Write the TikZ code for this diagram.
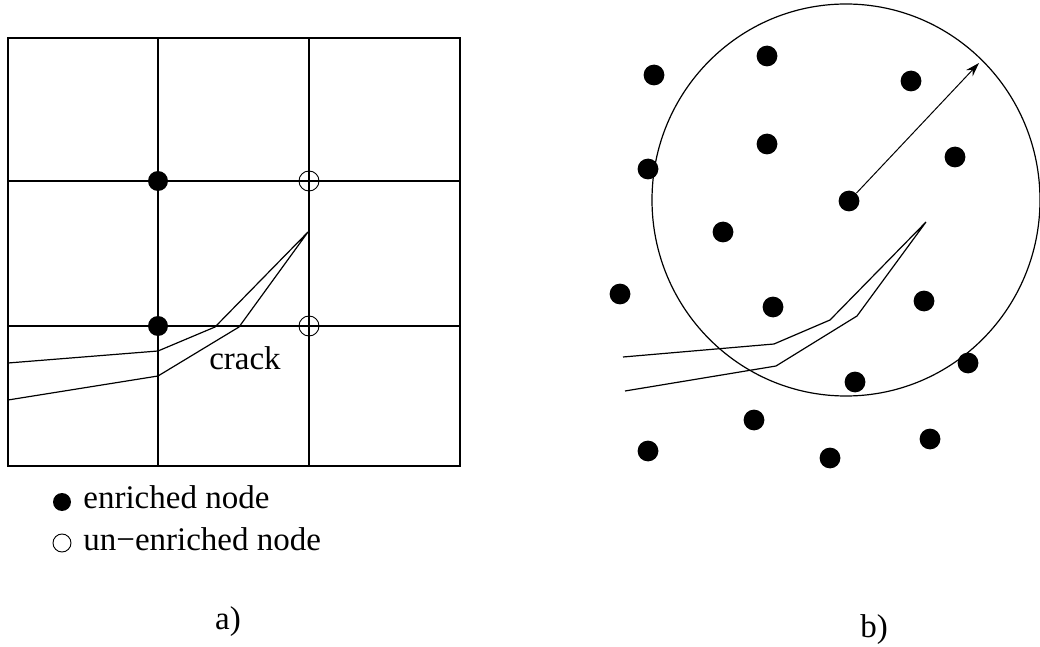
\documentclass[tikz,border=0pt]{standalone}
\usepackage{fontspec}
\setmainfont{Liberation Serif}
\usetikzlibrary{arrows.meta,positioning}

\begin{document}
\begin{tikzpicture}[x=0.5pt,y=-0.5pt,
    enr/.style={circle,fill=black,inner sep=0pt,minimum size=10pt},
    unenr/.style={circle,draw=black,line width=0.45pt,inner sep=0pt,minimum size=10pt},
    pt/.style={circle,fill=black,inner sep=0pt,minimum size=10.4pt},
    lbl/.style={font=\fontsize{16.5}{20}\selectfont,inner sep=0pt},
    grd/.style={line width=0.8pt},
    crk/.style={line width=0.6pt},
    arr/.style={-{Stealth[length=7pt,width=4.5pt]},line width=0.5pt}
  ]
    \useasboundingbox (0,0) rectangle (1040,647);

    % a) mesh with enriched nodes
    \draw[grd] (8,38) rectangle (460,466);
    \foreach \gx in {158,309} \draw[grd] (\gx,38) -- (\gx,466);
    \foreach \gy in {181,326} \draw[grd] (8,\gy) -- (460,\gy);
    \draw[crk] (8,363) -- (158,351) -- (215,327) -- (308,232)
      -- (239,327) -- (158,376) -- (8,400);

    \node[enr] (en1) at (158,181) {};
    \node[enr] (en2) at (158,326) {};
    \node[unenr] (un1) at (309,181) {};
    \node[unenr] (un2) at (309,326) {};
    \node[lbl] (crack) at (245,358) {crack};

    % legend
    \node[enr,minimum size=9pt] (legen) at (62,502) {};
    \node[lbl,anchor=base west] (legentxt) at (83,508) {enriched node};
    \node[unenr,minimum size=9pt] (legun) at (62,543) {};
    \node[lbl,anchor=base west] (leguntxt) at (83,550) {un\textminus enriched node};

    \node[lbl] (capa) at (228,622) {a)};

    % b) meshless nodes and support domain
    \draw[crk] (846,200) ellipse [x radius=194, y radius=196];
    \foreach \px/\py [count=\i] in {654/75,767/56,911/81,767/144,955/157,648/169,
        849/201,723/232,620/294,773/307,924/301,968/363,855/382,754/420,
        648/451,830/458,930/439}
      \node[pt] (p\i) at (\px,\py) {};
    \coordinate (rim) at (979,63);
    \draw[arr] (p7) -- (rim);
    \draw[crk] (623,357) -- (774,344) -- (830,320) -- (926,222)
      -- (857,316) -- (776,366) -- (625,391);

    \node[lbl] (capb) at (874,630) {b)};
  \end{tikzpicture}
\end{document}
